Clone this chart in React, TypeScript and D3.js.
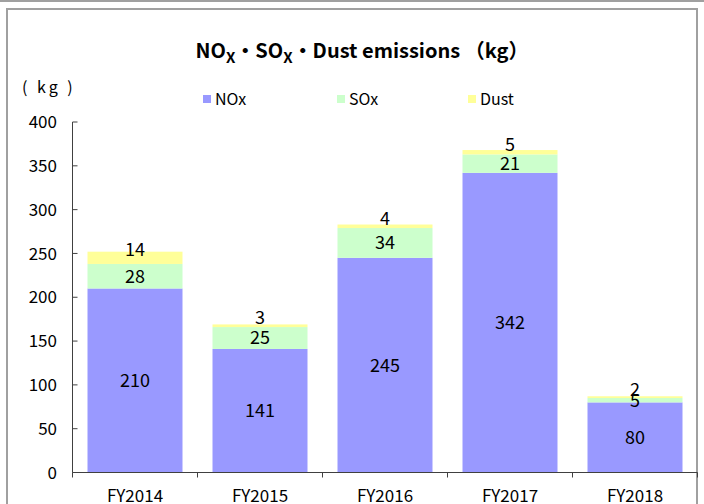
import React from "react";
import * as d3 from "d3";

const years = ["FY2014", "FY2015", "FY2016", "FY2017", "FY2018"];
const noxValues = [210, 141, 245, 342, 80];
const soxValues = [28, 25, 34, 21, 5];
const dustValues = [14, 3, 4, 5, 2];
const seriesNames = ["NOx", "SOx", "Dust"];
const seriesColors = ["#9999ff", "#ccffcc", "#ffff99"];
const yTicks = [0, 50, 100, 150, 200, 250, 300, 350, 400];

const W = 704;
const H = 504;
const FONT = "'Noto Sans CJK JP', 'Noto Sans', sans-serif";

const App = () => {
  // plot area
  const left = 72.5,
    right = 697.5,
    top = 122,
    bottom = 472.5;

  const x = d3
    .scaleBand()
    .domain(years)
    .range([left, right])
    .paddingInner(0.24)
    .paddingOuter(0.12);
  const y = d3.scaleLinear().domain([0, 400]).range([bottom, top]);

  const table = years.map((yr, i) => ({
    year: yr,
    NOx: noxValues[i],
    SOx: soxValues[i],
    Dust: dustValues[i],
  }));
  const stacked = d3.stack().keys(seriesNames)(table as any);

  const step = x.step();
  const boundaries = d3.range(years.length + 1).map((i) => left + i * step);

  return (
    <svg
      width={W}
      height={H}
      style={{ position: "absolute", left: 0, top: 0, display: "block", background: "#fff" }}
      fontFamily={FONT}
    >
      {/* frame */}
      <line x1={0} x2={W} y1={1} y2={1} stroke="#a0a0a0" strokeWidth={2} />
      <rect x={7} y={9} width={690} height={H} fill="none" stroke="#a0a0a0" strokeWidth={2} />

      {/* title */}
      <text x={362} y={58} textAnchor="middle" fontSize={20} fontWeight="bold" fill="#000">
        <tspan>NO</tspan>
        <tspan fontSize={15} dy={5}>X</tspan>
        <tspan dy={-5}>・SO</tspan>
        <tspan fontSize={15} dy={5}>X</tspan>
        <tspan dy={-5}>・Dust emissions （kg）</tspan>
      </text>

      {/* unit */}
      <text x={22} y={93} fontSize={16} letterSpacing={3} fill="#000">
        ( kg )
      </text>

      {/* legend */}
      {seriesNames.map((s, i) => {
        const lx = [203, 337, 468][i];
        return (
          <g key={s}>
            <rect x={lx} y={95} width={8} height={8} fill={seriesColors[i]} />
            <text x={lx + 12} y={105} fontSize={16} fill="#000">
              {s}
            </text>
          </g>
        );
      })}

      {/* bars */}
      {stacked.map((layer, si) => (
        <g key={layer.key}>
          {layer.map((d, i) => (
            <rect
              key={years[i]}
              x={x(years[i])}
              y={y(d[1])}
              width={x.bandwidth()}
              height={y(d[0]) - y(d[1])}
              fill={seriesColors[si]}
            />
          ))}
        </g>
      ))}

      {/* data labels */}
      {stacked.map((layer, si) => (
        <g key={"l" + layer.key}>
          {layer.map((d, i) => {
            const cy = (y(d[0]) + y(d[1])) / 2 - (si === 2 ? 8 : 0);
            return (
              <text
                key={years[i]}
                x={(x(years[i]) as number) + x.bandwidth() / 2}
                y={cy}
                dy="0.36em"
                textAnchor="middle"
                fontSize={18}
                fill="#000"
              >
                {d[1] - d[0]}
              </text>
            );
          })}
        </g>
      ))}

      {/* y axis */}
      <line x1={left} x2={left} y1={top} y2={bottom} stroke="#404040" strokeWidth={1} />
      {yTicks.map((t) => (
        <g key={t}>
          <line x1={left} x2={left + 5} y1={y(t)} y2={y(t)} stroke="#404040" />
          <text x={57} y={y(t)} dy="0.36em" textAnchor="end" fontSize={17} fill="#000">
            {t}
          </text>
        </g>
      ))}

      {/* x axis */}
      <line x1={left} x2={right} y1={bottom} y2={bottom} stroke="#404040" strokeWidth={1} />
      {boundaries.map((bx, i) => (
        <line key={i} x1={bx} x2={bx} y1={bottom} y2={bottom + 5} stroke="#404040" />
      ))}
      {years.map((yr) => (
        <text
          key={yr}
          x={(x(yr) as number) + x.bandwidth() / 2}
          y={502}
          textAnchor="middle"
          fontSize={17}
          fill="#000"
        >
          {yr}
        </text>
      ))}
    </svg>
  );
};

export default App;
